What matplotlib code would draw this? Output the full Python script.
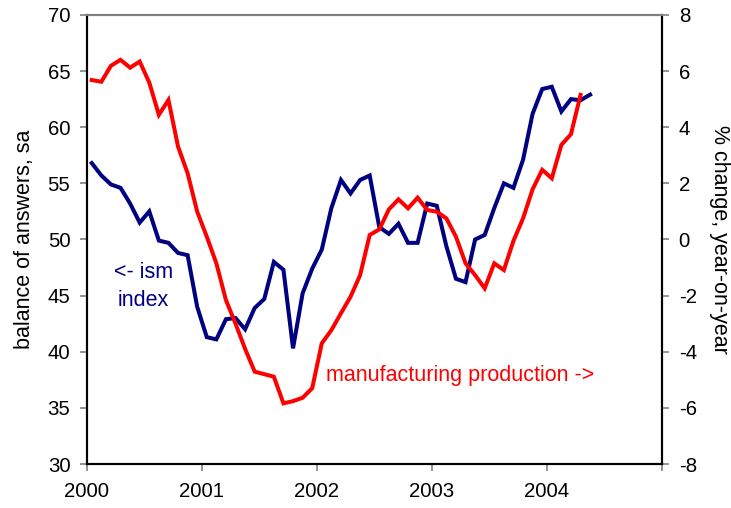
import matplotlib
matplotlib.use("Agg")
import matplotlib.pyplot as plt
import numpy as np

plt.rcParams['font.family'] = ['Liberation Sans', 'DejaVu Sans']
plt.rcParams['axes.unicode_minus'] = False

# ISM index, monthly Jan 2000 - May 2004 (left axis)
ism = [56.8, 55.7, 54.9, 54.6, 53.2, 51.5, 52.5, 49.9, 49.7, 48.8, 48.6, 44.0,
       41.3, 41.1, 42.9, 43.0, 42.0, 43.9, 44.7, 48.0, 47.3, 40.3, 45.2, 47.4,
       49.1, 52.8, 55.3, 54.1, 55.3, 55.7, 51.1, 50.5, 51.4, 49.7, 49.7, 53.2,
       53.0, 49.4, 46.5, 46.2, 50.0, 50.4, 52.8, 55.0, 54.6, 57.1, 61.2, 63.4,
       63.6, 61.4, 62.5, 62.4, 62.9]

# manufacturing production, % change y/y, Jan 2000 - Apr 2004 (right axis)
manuf = [5.68, 5.62, 6.19, 6.40, 6.12, 6.34, 5.59, 4.44, 4.97, 3.31, 2.36, 0.99,
         0.10, -0.85, -2.16, -3.00, -3.90, -4.71, -4.80, -4.89, -5.84, -5.76, -5.64, -5.30,
         -3.70, -3.23, -2.63, -2.04, -1.27, 0.16, 0.36, 1.07, 1.43, 1.11, 1.49, 1.05,
         0.99, 0.75, 0.10, -0.85, -1.27, -1.74, -0.85, -1.09, -0.05, 0.75, 1.79, 2.48,
         2.18, 3.37, 3.75, 5.15]

years = [2000, 2001, 2002, 2003, 2004, 2005]
year_labels = ['2000', '2001', '2002', '2003', '2004', '']

# mid-month positions
x_ism = 2000 + (np.arange(len(ism)) + 0.5) / 12
x_man = 2000 + (np.arange(len(manuf)) + 0.5) / 12

fig = plt.figure(figsize=(7.31, 5.08), dpi=100)
ax = fig.add_axes([0.119, 0.0866, 0.7866, 0.884])
ax2 = ax.twinx()

ax.plot(x_ism, ism, color='#000080', lw=2.9, solid_joinstyle='miter')
ax2.plot(x_man, manuf, color='#ff0000', lw=2.9, solid_joinstyle='miter')

ax.set_xlim(2000, 2005)
ax.set_ylim(30, 70)
ax2.set_ylim(-8, 8)
ax.set_yticks(range(30, 71, 5))
ax2.set_yticks(range(-8, 9, 2))
ax.set_xticks(years)
ax.set_xticklabels(year_labels)

for a in (ax, ax2):
    a.tick_params(axis='both', direction='out', length=5, width=1.2,
                  color='#808080', labelsize=14.7, pad=7)
    a.spines['top'].set_color('#808080')
    a.spines['top'].set_linewidth(1.5)
    for s in ('left', 'right', 'bottom'):
        a.spines[s].set_color('black')
        a.spines[s].set_linewidth(1.5)
ax.tick_params(axis='x', pad=8)

ax.set_ylabel('balance of answers, sa', fontsize=15.5, labelpad=9)
ax2.set_ylabel('% change, year-on-year', fontsize=15.5, rotation=270, labelpad=24)

ax.text(2000.49, 45.8, '<- ism\nindex', color='#000080', fontsize=15.5,
        ha='center', va='center', linespacing=1.45)
ax2.text(2002.08, -4.85, 'manufacturing production ->', color='#ff0000',
         fontsize=15.5, ha='left', va='center')

fig.savefig('out.png', dpi=100)
